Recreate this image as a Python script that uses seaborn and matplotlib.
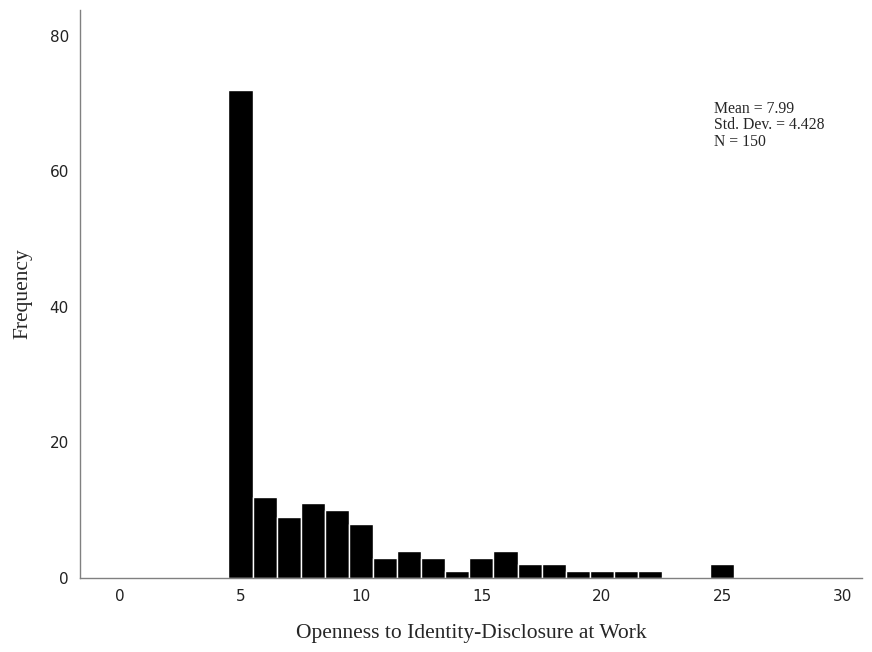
import matplotlib
matplotlib.use("Agg")
import matplotlib.pyplot as plt
import seaborn as sns
import pandas as pd

# scores and how many people got each one
scores = [5, 6, 7, 8, 9, 10, 11, 12, 13, 14, 15, 16, 17, 18, 19, 20, 21, 22, 25]
counts = [72, 12, 9, 11, 10, 8, 3, 4, 3, 1, 3, 4, 2, 2, 1, 1, 1, 1, 2]
x_ticks = [0, 5, 10, 15, 20, 25, 30]
y_ticks = [0, 20, 40, 60, 80]
stats_text = "Mean = 7.99\nStd. Dev. = 4.428\nN = 150"

df = pd.DataFrame({"score": scores, "n": counts})

sns.set_style("white")
plt.rcParams["font.family"] = ["DejaVu Sans"]

fig = plt.figure(figsize=(8.72, 6.52), dpi=100)
ax = fig.add_axes([0.0917, 0.1135, 0.8968, 0.8712])

sns.histplot(data=df, x="score", weights="n", discrete=True, ax=ax,
             color="black", edgecolor="white", linewidth=1, alpha=1)

ax.set_xlim(-1.66, 30.79)
ax.set_ylim(0, 83.8)
ax.set_xticks(x_ticks)
ax.set_yticks(y_ticks)
ax.tick_params(length=0, labelsize=11, pad=8, labelcolor="#222222")

sns.despine(ax=ax)
for s in ["left", "bottom"]:
    ax.spines[s].set_color("#808080")
    ax.spines[s].set_linewidth(1)

ax.set_xlabel("Openness to Identity-Disclosure at Work",
              family="Liberation Serif", fontsize=15.5, labelpad=14)
ax.set_ylabel("Frequency", family="Liberation Serif", fontsize=15.5, labelpad=12)

ax.text(0.811, 0.84, stats_text, transform=ax.transAxes,
        family="Liberation Serif", fontsize=11.3, va="top", ha="left",
        linespacing=1.05)

fig.savefig("out.png", dpi=100)
